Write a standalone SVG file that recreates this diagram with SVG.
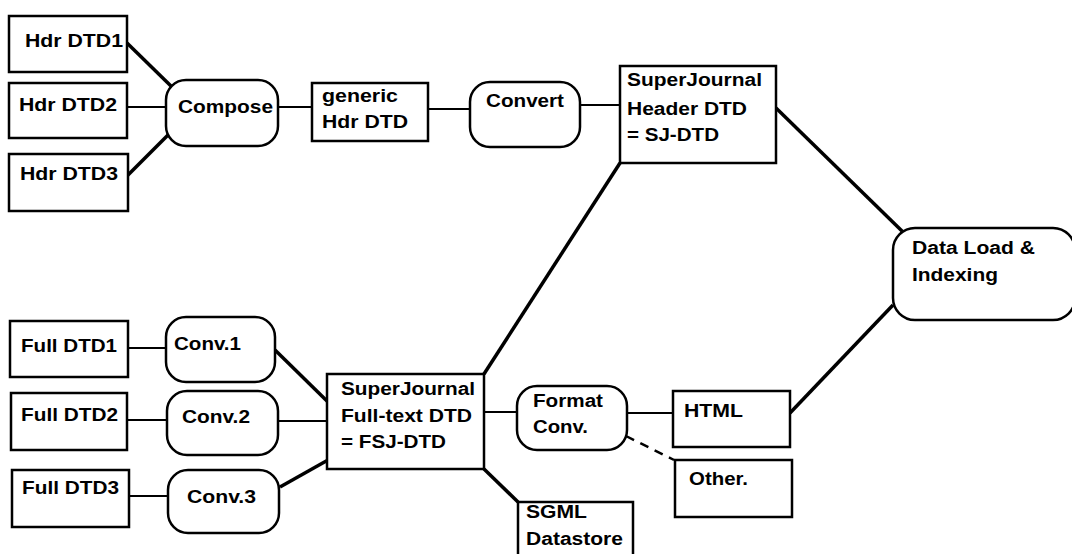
<svg xmlns="http://www.w3.org/2000/svg" width="1072" height="554" viewBox="0 0 1072 554">
<style>
.b{fill:#fff;stroke:#000;stroke-width:2.5}
.t{font-family:"Liberation Sans",Arial,sans-serif;font-weight:bold;font-size:18px;fill:#000}
.thin{stroke:#000;stroke-width:2;fill:none}
.thick{stroke:#000;stroke-width:3.5;fill:none}
.dash{stroke:#000;stroke-width:2.5;fill:none;stroke-dasharray:9 7}
</style>
<rect width="1072" height="554" fill="#fff"/>
<g id="connectors">
<line class="thick" x1="127" y1="43" x2="173" y2="88"/>
<line class="thin" x1="127" y1="107" x2="166" y2="107"/>
<line class="thick" x1="123" y1="180" x2="170" y2="133"/>
<line class="thin" x1="278" y1="107" x2="313" y2="107"/>
<line class="thin" x1="428" y1="109" x2="471" y2="109"/>
<line class="thin" x1="580" y1="105" x2="621" y2="105"/>
<line class="thick" x1="776" y1="108" x2="903" y2="232"/>
<line class="thick" x1="893" y1="305" x2="790" y2="413"/>
<line class="thin" x1="128" y1="348" x2="166" y2="348"/>
<line class="thin" x1="127" y1="420" x2="167" y2="420"/>
<line class="thin" x1="129" y1="496" x2="168" y2="496"/>
<line class="thick" x1="275" y1="350" x2="328" y2="402"/>
<line class="thin" x1="278" y1="421" x2="328" y2="421"/>
<line class="thick" x1="280" y1="487" x2="328" y2="460"/>
<line class="thick" x1="484" y1="374" x2="620" y2="163"/>
<line class="thin" x1="484" y1="412" x2="517" y2="412"/>
<line class="thick" x1="484" y1="469" x2="518" y2="502"/>
<line class="thin" x1="627" y1="413" x2="673" y2="413"/>
<line class="dash" x1="626" y1="436" x2="674" y2="460"/>
</g>
<g id="hdr1"><rect class="b" x="9" y="16" width="118" height="56"/><text class="t" x="25" y="47" textLength="98" lengthAdjust="spacingAndGlyphs">Hdr DTD1</text></g>
<g id="hdr2"><rect class="b" x="9" y="83" width="118" height="55"/><text class="t" x="19" y="111" textLength="98" lengthAdjust="spacingAndGlyphs">Hdr DTD2</text></g>
<g id="hdr3"><rect class="b" x="9" y="154" width="119" height="57"/><text class="t" x="20" y="180" textLength="98" lengthAdjust="spacingAndGlyphs">Hdr DTD3</text></g>
<g id="compose"><rect class="b" x="166" y="80" width="112" height="66" rx="20"/><text class="t" x="178" y="113" textLength="95" lengthAdjust="spacingAndGlyphs">Compose</text></g>
<g id="generic"><rect class="b" x="312" y="83" width="116" height="58"/><text class="t" x="322" y="102" textLength="76" lengthAdjust="spacingAndGlyphs">generic</text><text class="t" x="322" y="128" textLength="86" lengthAdjust="spacingAndGlyphs">Hdr DTD</text></g>
<g id="convert"><rect class="b" x="470" y="82" width="110" height="65" rx="20"/><text class="t" x="486" y="107" textLength="78" lengthAdjust="spacingAndGlyphs">Convert</text></g>
<g id="sj"><rect class="b" x="620" y="66" width="156" height="97"/><text class="t" x="627" y="86" textLength="135" lengthAdjust="spacingAndGlyphs">SuperJournal</text><text class="t" x="627" y="115" textLength="120" lengthAdjust="spacingAndGlyphs">Header DTD</text><text class="t" x="627" y="141" textLength="92" lengthAdjust="spacingAndGlyphs">= SJ-DTD</text></g>
<g id="dataload"><rect class="b" x="893" y="228" width="182" height="92" rx="22"/><text class="t" x="912" y="254" textLength="123" lengthAdjust="spacingAndGlyphs">Data Load &amp;</text><text class="t" x="912" y="281" textLength="86" lengthAdjust="spacingAndGlyphs">Indexing</text></g>
<g id="full1"><rect class="b" x="10" y="321" width="118" height="56"/><text class="t" x="21" y="352" textLength="96" lengthAdjust="spacingAndGlyphs">Full DTD1</text></g>
<g id="full2"><rect class="b" x="11" y="393" width="116" height="57"/><text class="t" x="21" y="421" textLength="97" lengthAdjust="spacingAndGlyphs">Full DTD2</text></g>
<g id="full3"><rect class="b" x="12" y="470" width="117" height="57"/><text class="t" x="22" y="494" textLength="97" lengthAdjust="spacingAndGlyphs">Full DTD3</text></g>
<g id="conv1"><rect class="b" x="166" y="317" width="109" height="65" rx="20"/><text class="t" x="174" y="350" textLength="67" lengthAdjust="spacingAndGlyphs">Conv.1</text></g>
<g id="conv2"><rect class="b" x="167" y="391" width="111" height="64" rx="20"/><text class="t" x="182" y="423" textLength="68" lengthAdjust="spacingAndGlyphs">Conv.2</text></g>
<g id="conv3"><rect class="b" x="168" y="470" width="111" height="63" rx="20"/><text class="t" x="187" y="503" textLength="69" lengthAdjust="spacingAndGlyphs">Conv.3</text></g>
<g id="fsj"><rect class="b" x="327" y="374" width="157" height="95"/><text class="t" x="341" y="395" textLength="134" lengthAdjust="spacingAndGlyphs">SuperJournal</text><text class="t" x="341" y="422" textLength="131" lengthAdjust="spacingAndGlyphs">Full-text DTD</text><text class="t" x="341" y="448" textLength="105" lengthAdjust="spacingAndGlyphs">= FSJ-DTD</text></g>
<g id="format"><rect class="b" x="517" y="386" width="110" height="64" rx="20"/><text class="t" x="533" y="407" textLength="70" lengthAdjust="spacingAndGlyphs">Format</text><text class="t" x="533" y="433" textLength="55" lengthAdjust="spacingAndGlyphs">Conv.</text></g>
<g id="sgml"><rect class="b" x="518" y="502" width="115" height="60"/><text class="t" x="526" y="518" textLength="61" lengthAdjust="spacingAndGlyphs">SGML</text><text class="t" x="526" y="545" textLength="97" lengthAdjust="spacingAndGlyphs">Datastore</text></g>
<g id="html"><rect class="b" x="673" y="391" width="117" height="56"/><text class="t" x="684" y="417" textLength="59" lengthAdjust="spacingAndGlyphs">HTML</text></g>
<g id="other"><rect class="b" x="675" y="460" width="117" height="57"/><text class="t" x="689" y="485" textLength="59" lengthAdjust="spacingAndGlyphs">Other.</text></g>
</svg>
